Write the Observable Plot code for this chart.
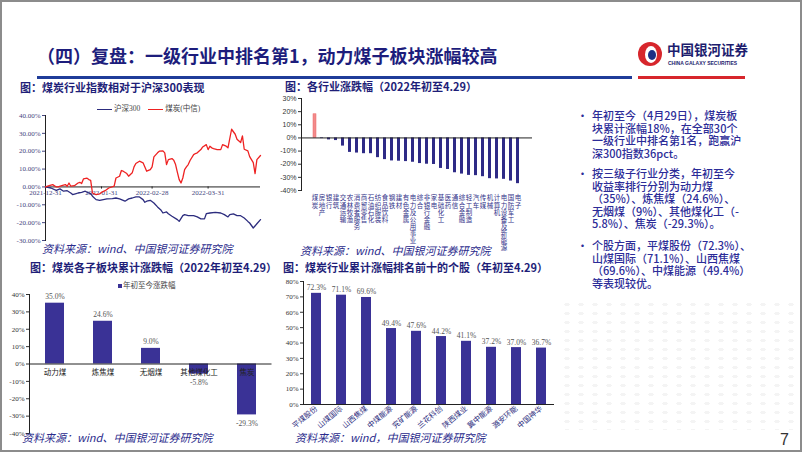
<!DOCTYPE html>
<html><head><meta charset="utf-8">
<script src="https://cdn.jsdelivr.net/npm/d3@7"></script>
<script src="https://cdn.jsdelivr.net/npm/@observablehq/plot@0.6"></script>
<style>
html,body{margin:0;padding:0;background:#fff;}
#page{position:relative;width:802px;height:452px;overflow:hidden;font-family:"Noto Sans CJK SC","Noto Sans",sans-serif;background:#fff;}
.abs{position:absolute;white-space:nowrap;}
.frame{position:absolute;left:0;top:0;width:802px;height:452px;box-sizing:border-box;border:2px solid #8c8c8c;pointer-events:none;}
.title{font-size:18px;font-weight:700;color:#1d1d7c;line-height:26px;}
.ctitle{font-size:11px;font-weight:700;color:#1e1e78;line-height:13px;}
.src{font-size:11px;font-style:italic;color:#2b2b8c;line-height:14px;}
.bul{font-size:11px;color:#2c2c98;line-height:12.5px;font-weight:500;}
.leg{font-family:"Liberation Serif","Noto Sans CJK SC",serif;font-size:7.5px;color:#444;line-height:10px;}
.chart{position:absolute;}
.dots{position:absolute;background-image:radial-gradient(ellipse 3px 1.6px,#ececec 90%,transparent 100%);background-size:14px 9px;opacity:0.6;}
</style>
</head><body>
<div id="page">
  <div class="dots" style="left:560px;top:300px;width:242px;height:130px;"></div>
  <div class="abs title" style="left:37px;top:42px;">（四）复盘：一级行业中排名第1，动力煤子板块涨幅较高</div>
  <div class="abs" style="left:37px;top:76px;width:595px;height:3px;background:#1f3c99;"></div>
  <div class="abs" style="left:638px;top:76px;width:107px;height:3px;background:#d7262c;"></div>
  <div class="abs" style="left:638px;top:42px;width:24px;height:24px;border-radius:50%;background:#d7262c;"></div>
  <div class="abs" style="left:645px;top:46px;width:12px;height:17px;border-radius:50%;background:#fff;"></div>
  <div class="abs" style="left:648px;top:50px;width:8px;height:10px;border-radius:50%;background:#1d2f86;"></div>
  <div class="abs" style="left:667px;top:42px;font-size:13.5px;font-weight:700;color:#1d1d6e;line-height:15px;">中国银河证券</div>
  <div class="abs" style="left:668px;top:60px;font-size:5px;font-weight:700;color:#1d1d6e;line-height:6px;font-family:'Liberation Sans',sans-serif;">CHINA GALAXY SECURITIES</div>

  <div class="abs ctitle" style="left:20px;top:81px;">图：煤炭行业指数相对于沪深300表现</div>
  <div class="abs ctitle" style="left:285px;top:80px;">图：各行业涨跌幅（2022年初至4.29）</div>
  <div class="abs ctitle" style="left:30px;top:261px;">图：煤炭各子板块累计涨跌幅（2022年初至4.29）</div>
  <div class="abs ctitle" style="left:283px;top:261px;">图：煤炭行业累计涨幅排名前十的个股（年初至4.29）</div>

  <div class="abs leg" style="left:97px;top:104px;"><span style="display:inline-block;width:15px;height:1.5px;background:#2c2c7e;vertical-align:middle;margin-right:2px;"></span>沪深300<span style="display:inline-block;width:15px;height:1.5px;background:#ee2222;vertical-align:middle;margin:0 2px 0 8px;"></span>煤炭(中信)</div>
  <div class="abs leg" style="left:118px;top:281px;"><span style="display:inline-block;width:4px;height:4px;background:#3a3296;vertical-align:middle;margin-right:1px;"></span>年初至今涨跌幅</div>

  <div id="c1" class="chart" style="left:0px;top:100px;"></div>
  <div id="c2" class="chart" style="left:270px;top:90px;"></div>
  <div id="c3" class="chart" style="left:0px;top:280px;"></div>
  <div id="c4" class="chart" style="left:270px;top:275px;"></div>

  <div class="abs src" style="left:42px;top:241px;">资料来源：wind、中国银河证券研究院</div>
  <div class="abs src" style="left:300px;top:243px;">资料来源：wind、中国银河证券研究院</div>
  <div class="abs src" style="left:22px;top:430px;">资料来源：wind、中国银河证券研究院</div>
  <div class="abs src" style="left:295px;top:430px;">资料来源：wind，中国银河证券研究院</div>

  <div class="abs bul" style="left:577px;top:109px;">•</div>
  <div class="abs bul" style="left:592px;top:109px;">年初至今（4月29日），煤炭板<br>块累计涨幅18%，在全部30个<br>一级行业中排名第1名，跑赢沪<br>深300指数36pct。</div>
  <div class="abs bul" style="left:577px;top:167px;">•</div>
  <div class="abs bul" style="left:592px;top:167px;">按三级子行业分类，年初至今<br>收益率排行分别为动力煤<br>（35%）、炼焦煤（24.6%）、<br>无烟煤（9%）、其他煤化工（-<br>5.8%）、焦炭（-29.3%）。</div>
  <div class="abs bul" style="left:577px;top:239px;">•</div>
  <div class="abs bul" style="left:592px;top:239px;">个股方面，平煤股份（72.3%）、<br>山煤国际（71.1%）、山西焦煤<br>（69.6%）、中煤能源（49.4%）<br>等表现较优。</div>

  <div class="abs" style="left:780px;top:430px;font-size:16px;color:#333;font-family:'Liberation Sans',sans-serif;line-height:20px;">7</div>
  <div class="frame"></div>
</div>
<script>
// ---------- Chart 1: coal index vs CSI 300 ----------
const coalDates = ["2021-12-31","2022-01-02","2022-01-04","2022-01-06","2022-01-07","2022-01-09","2022-01-11","2022-01-12","2022-01-13","2022-01-14","2022-01-16","2022-01-18","2022-01-19","2022-01-20","2022-01-21","2022-01-23","2022-01-24","2022-01-25","2022-01-26","2022-01-28","2022-01-30","2022-01-31","2022-02-02","2022-02-04","2022-02-07","2022-02-08","2022-02-10","2022-02-11","2022-02-12","2022-02-14","2022-02-15","2022-02-17","2022-02-18","2022-02-19","2022-02-21","2022-02-23","2022-02-24","2022-02-25","2022-02-27","2022-02-28","2022-03-01","2022-03-03","2022-03-04","2022-03-06","2022-03-07","2022-03-08","2022-03-09","2022-03-11","2022-03-12","2022-03-13","2022-03-14","2022-03-15","2022-03-16","2022-03-17","2022-03-18","2022-03-19","2022-03-20","2022-03-21","2022-03-23","2022-03-24","2022-03-25","2022-03-27","2022-03-28","2022-03-30","2022-03-31","2022-04-01","2022-04-02","2022-04-03","2022-04-05","2022-04-07","2022-04-08","2022-04-10","2022-04-11","2022-04-13","2022-04-15","2022-04-16","2022-04-18","2022-04-19","2022-04-20","2022-04-22","2022-04-23","2022-04-25","2022-04-26","2022-04-27","2022-04-29"];
const coalValues = [0,0.7,1.3,0,0,0.7,1.3,0.4,2.2,0.4,0.7,2.2,2.6,1.9,4.5,4.9,4.1,3.7,-3.4,-4.3,-3.9,-3.0,-2.1,-0.6,0.4,5.0,6.0,9.2,8.8,7.5,6.0,7.9,11.2,13.1,14.4,13.5,11.2,8.8,9.7,11.2,16.8,19.1,20.0,20.2,19.1,12.5,15.3,15.9,15.0,12.5,8.2,4.1,2.2,5.0,9.7,11.2,12.5,14.8,18.1,18.7,19.1,20.9,22.4,23.7,20.9,22.8,21.9,21.5,20.9,20.9,23.7,22.8,21.9,32.3,29.5,26.7,24.9,28.6,21.1,20.2,17.0,13.6,7.5,15.3,17.6];
const hsDates = ["2021-12-31","2022-01-03","2022-01-05","2022-01-06","2022-01-08","2022-01-10","2022-01-12","2022-01-14","2022-01-15","2022-01-17","2022-01-18","2022-01-20","2022-01-22","2022-01-23","2022-01-25","2022-01-26","2022-01-28","2022-01-30","2022-02-01","2022-02-03","2022-02-06","2022-02-08","2022-02-10","2022-02-11","2022-02-13","2022-02-15","2022-02-17","2022-02-19","2022-02-21","2022-02-23","2022-02-24","2022-02-25","2022-02-27","2022-03-01","2022-03-03","2022-03-05","2022-03-06","2022-03-08","2022-03-09","2022-03-11","2022-03-14","2022-03-15","2022-03-17","2022-03-18","2022-03-20","2022-03-23","2022-03-25","2022-03-27","2022-03-29","2022-03-30","2022-04-01","2022-04-04","2022-04-07","2022-04-09","2022-04-11","2022-04-12","2022-04-14","2022-04-16","2022-04-18","2022-04-20","2022-04-22","2022-04-23","2022-04-25","2022-04-27","2022-04-29"];
const hsValues = [0,-0.6,-1.5,-1.9,-1.1,-2.4,-2.1,-3.4,-4.3,-3.7,-3.4,-3.0,-2.4,-3.0,-3.7,-5.2,-7.1,-7.5,-7.1,-6.7,-6.5,-6.2,-6.7,-7.1,-8.0,-6.7,-6.2,-5.6,-5.6,-7.1,-8.6,-8.0,-7.5,-9.0,-11.2,-13.1,-14.6,-14.0,-15.0,-16.4,-18.3,-19.3,-16.1,-15.5,-16.1,-16.1,-16.8,-17.9,-17.9,-15.0,-14.6,-14.2,-14.6,-15.5,-16.8,-15.5,-15.1,-16.1,-16.1,-17.4,-19.3,-20.2,-23.0,-20.6,-18.3];
const c1YTicks = [-30,-20,-10,0,10,20,30,40];
const c1XTickDates = ["2021-12-31","2022-01-31","2022-02-28","2022-03-31"];

// ---------- Chart 2: industries ----------
const industries = ["煤炭","房地产","银行","建筑","交通运输","农林牧渔","消费者服务","商贸零售","石油石化","纺织服装","食品饮料","钢铁","建材","有色金属","电力及公用事业","综合","非银行金融","家电","基础化工","医药","通信","综合金融","轻工制造","汽车","传媒","机械","计算机","电力设备及新能源","国防军工","电子"];
const industryChanges = [18.0,-0.5,-1.5,-2.0,-6.2,-11.0,-11.5,-12.0,-12.0,-15.0,-16.5,-17.5,-17.7,-18.0,-18.5,-19.5,-20.0,-20.2,-23.2,-24.0,-26.5,-27.5,-28.5,-28.7,-29.5,-31.0,-31.2,-31.5,-32.8,-34.8];
const c2YTicks = [-40,-30,-20,-10,0,10,20,30];

// ---------- Chart 3: coal sub-sectors ----------
const subSectors = ["动力煤","炼焦煤","无烟煤","其他煤化工","焦炭"];
const subChanges = [35.0,24.6,9.0,-5.8,-29.3];
const c3YTicks = [-40,-30,-20,-10,0,10,20,30,40];

// ---------- Chart 4: top 10 stocks ----------
const stocks = ["平煤股份","山煤国际","山西焦煤","中煤能源","兖矿能源","兰花科创","陕西煤业","冀中能源","潞安环能","中国神华"];
const stockChanges = [72.3,71.1,69.6,49.4,47.6,44.2,41.1,37.2,37.0,36.7];
const c4YTicks = [0,10,20,30,40,50,60,70,80];

const serif = "'Liberation Serif','Noto Sans CJK SC',serif";
const navy = "#2c2c7e", red = "#ee2222", bar = "#3a3296";

const coal = coalDates.map((d,i)=>({date:new Date(d), v:coalValues[i]}));
const hs = hsDates.map((d,i)=>({date:new Date(d), v:hsValues[i]}));
const xt = c1XTickDates.map(d=>({date:new Date(d), label:d}));

document.getElementById("c1").append(Plot.plot({
  width:270, height:150, marginLeft:45, marginRight:10, marginTop:15, marginBottom:10,
  style:{fontFamily:serif, fontSize:"7px", color:"#45457e", background:"transparent"},
  x:{type:"utc", domain:[new Date("2021-12-31"), new Date("2022-04-29")], axis:null},
  y:{domain:[-30,40], axis:null},
  marks:[
    Plot.axisY({ticks:c1YTicks, tickFormat:d=>d.toFixed(2)+"%", tickSize:3, tickPadding:2, label:null}),
    Plot.frame({anchor:"left", stroke:"#222"}),
    Plot.ruleY([0], {stroke:"#222", strokeWidth:1}),
    Plot.ruleX(xt, {x:"date", y1:0, y2:-1.2, stroke:"#222"}),
    Plot.text(xt, {x:"date", y:0, dy:6, text:"label", fill:"#45457e"}),
    Plot.line(hs, {x:"date", y:"v", stroke:navy, strokeWidth:1.3}),
    Plot.line(coal, {x:"date", y:"v", stroke:red, strokeWidth:1.3})
  ]
}));

const ind = industries.map((n,i)=>({name:n, v:industryChanges[i], stack:[...n].join("\n")}));
document.getElementById("c2").append(Plot.plot({
  width:300, height:165, marginLeft:31, marginRight:38, marginTop:8, marginBottom:65,
  style:{fontFamily:"'Liberation Sans','Noto Sans CJK SC',sans-serif", fontSize:"7px", color:"#333", background:"transparent"},
  x:{domain:industries, paddingInner:0.56, paddingOuter:0.28, axis:null},
  y:{domain:[-40,30], axis:null},
  marks:[
    Plot.axisY({ticks:c2YTicks, tickFormat:d=>d+"%", tickSize:3, tickPadding:2, label:null}),
    Plot.frame({anchor:"left", stroke:"#222"}),
    Plot.barY(ind.filter(d=>d.v>0), {x:"name", y:"v", fill:"#f28b8b", stroke:"#e66", strokeWidth:0.5}),
    Plot.barY(ind.filter(d=>d.v<=0), {x:"name", y:"v", fill:"#2e2a86"}),
    Plot.ruleY([0], {stroke:"#222"}),
    Plot.text(ind, {x:"name", y:-40, dy:5, text:"stack", lineAnchor:"top", lineHeight:1.08, fontFamily:serif, fontSize:6.5, fill:"#34348a"})
  ]
}));

const sub = subSectors.map((n,i)=>({name:n, v:subChanges[i]}));
document.getElementById("c3").append(Plot.plot({
  width:275, height:160, marginLeft:29, marginRight:3.5, marginTop:14, marginBottom:7,
  style:{fontFamily:serif, fontSize:"7px", color:"#333", background:"transparent"},
  x:{domain:subSectors, paddingInner:0.6, paddingOuter:0.3, axis:null},
  y:{domain:[-40,40], axis:null},
  marks:[
    Plot.axisY({ticks:c3YTicks, tickFormat:d=>d+"%", tickSize:3, tickPadding:2, label:null}),
    Plot.frame({anchor:"left", stroke:"#222"}),
    Plot.barY(sub, {x:"name", y:"v", fill:bar}),
    Plot.ruleY([0], {stroke:"#222"}),
    Plot.text(sub, {x:"name", y:0, dy:9, text:"name", fill:"#222", fontSize:7.5}),
    Plot.text(sub.filter(d=>d.v>0), {x:"name", y:"v", text:d=>d.v.toFixed(1)+"%", fill:"#555", fontSize:7.5, lineAnchor:"bottom", dy:-4}),
    Plot.text(sub.filter(d=>d.v<0), {x:"name", y:"v", text:d=>d.v.toFixed(1)+"%", fill:"#555", fontSize:7.5, lineAnchor:"top", dy:6})
  ]
}));

const stk = stocks.map((n,i)=>({name:n, v:stockChanges[i]}));
document.getElementById("c4").append(Plot.plot({
  width:300, height:165, marginLeft:33, marginRight:16, marginTop:6, marginBottom:36,
  style:{fontFamily:serif, fontSize:"7px", color:"#333", background:"transparent"},
  x:{domain:stocks, paddingInner:0.6, paddingOuter:0.3, axis:null},
  y:{domain:[0,80], axis:null},
  marks:[
    Plot.axisY({ticks:c4YTicks, tickFormat:d=>d+"%", tickSize:3, tickPadding:2, label:null}),
    Plot.frame({anchor:"left", stroke:"#222"}),
    Plot.barY(stk, {x:"name", y:"v", fill:bar}),
    Plot.ruleY([0], {stroke:"#222"}),
    Plot.text(stk, {x:"name", y:"v", text:d=>d.v.toFixed(1)+"%", fill:"#555", fontSize:7.5, lineAnchor:"bottom", dy:-3}),
    Plot.axisX({anchor:"bottom", tickSize:0, tickPadding:3, tickRotate:-40, fontSize:7.5, fill:"#2e2e80", label:null})
  ]
}));
</script>
</body></html>
